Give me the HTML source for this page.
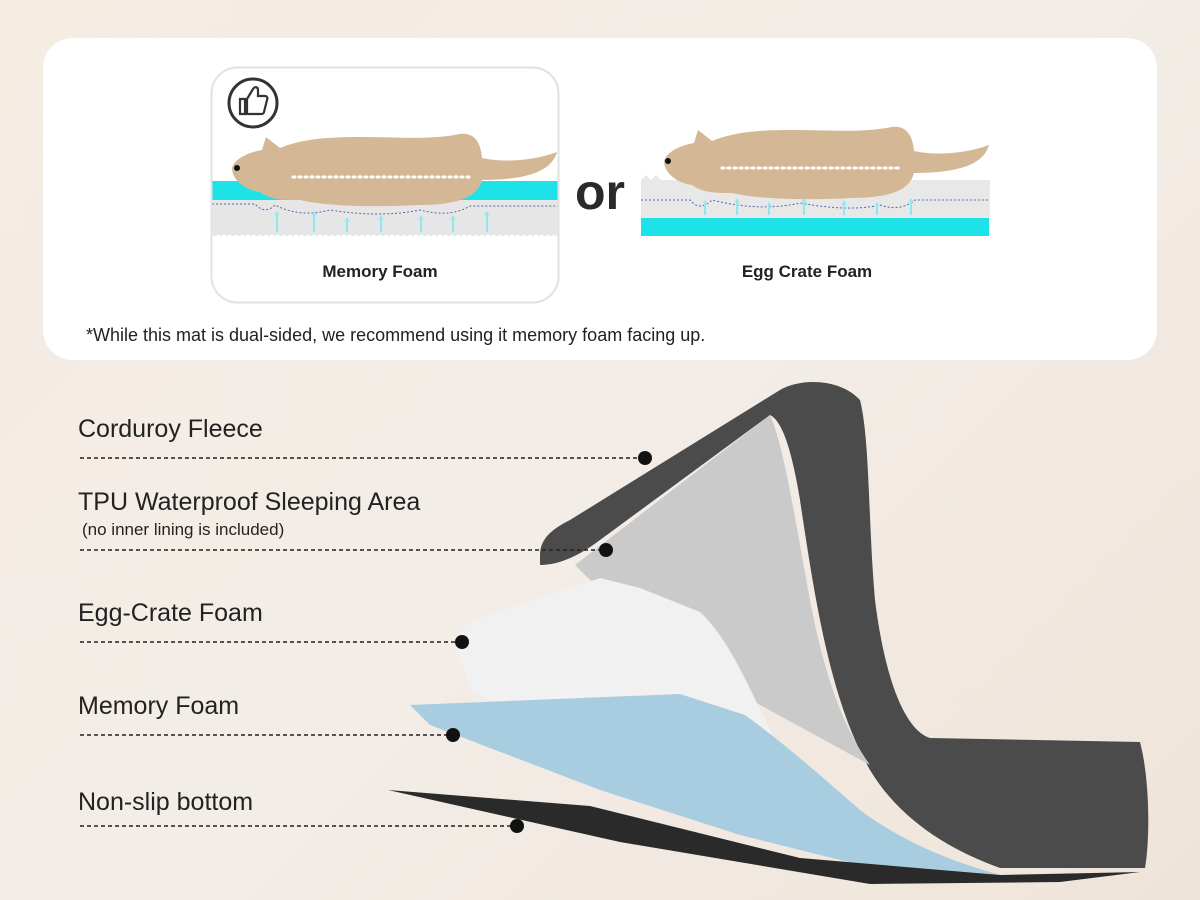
<!DOCTYPE html>
<html><head><meta charset="utf-8"><style>
html,body{margin:0;padding:0;width:1200px;height:900px;overflow:hidden}
body{background:linear-gradient(135deg,#f5ece2,#f3ede8 50%,#efe4d8);font-family:"Liberation Sans",sans-serif}
</style></head><body>
<svg width="1200" height="900" viewBox="0 0 1200 900" xmlns="http://www.w3.org/2000/svg" font-family="Liberation Sans, sans-serif">
<defs>
<clipPath id="lc"><rect x="212" y="68" width="346" height="234" rx="25"/></clipPath>
<path id="dog" d="M232 168 C235 158 250 152 262 150 L266 137 L280 148 C300 140 320 137 360 137 C400 137 430 140 460 134 C476 132 481 145 482 158 C500 162 530 162 557 152 C552 170 530 180 482 180 C478 196 460 205 420 205 C380 207 330 207 300 200 C285 200 270 200 260 192 C245 190 232 180 232 168 Z"/>
</defs>
<rect x="43" y="38" width="1114" height="322" rx="30" fill="#fff"/>
<g clip-path="url(#lc)">
<rect x="212" y="181" width="346" height="19" fill="#1de3e8"/>
<rect x="212" y="200" width="346" height="34" fill="#e6e6e6"/>
<path d="M212 234 q3 4 6 0 q3 4 6 0 q3 4 6 0 q3 4 6 0 q3 4 6 0 q3 4 6 0 q3 4 6 0 q3 4 6 0 q3 4 6 0 q3 4 6 0 q3 4 6 0 q3 4 6 0 q3 4 6 0 q3 4 6 0 q3 4 6 0 q3 4 6 0 q3 4 6 0 q3 4 6 0 q3 4 6 0 q3 4 6 0 q3 4 6 0 q3 4 6 0 q3 4 6 0 q3 4 6 0 q3 4 6 0 q3 4 6 0 q3 4 6 0 q3 4 6 0 q3 4 6 0 q3 4 6 0 q3 4 6 0 q3 4 6 0 q3 4 6 0 q3 4 6 0 q3 4 6 0 q3 4 6 0 q3 4 6 0 q3 4 6 0 q3 4 6 0 q3 4 6 0 q3 4 6 0 q3 4 6 0 q3 4 6 0 q3 4 6 0 q3 4 6 0 q3 4 6 0 q3 4 6 0 q3 4 6 0 q3 4 6 0 q3 4 6 0 q3 4 6 0 q3 4 6 0 q3 4 6 0 q3 4 6 0 q3 4 6 0 q3 4 6 0 q3 4 6 0 q3 4 6 0 q3 4 6 0 q3 4 6 0 z" fill="#e6e6e6"/>
<path d="M212 204 H255 Q265 215 275 205 Q300 218 330 210 Q380 218 420 210 Q450 218 470 206 H558" fill="none" stroke="#5566aa" stroke-width="1" stroke-dasharray="2 2"/>
<use href="#dog" fill="#d4b896"/>
</g>
<rect x="211.5" y="67.5" width="347" height="235" rx="26" fill="none" stroke="#e2e2e2" stroke-width="2"/>
<circle cx="253" cy="103" r="24" fill="none" stroke="#333" stroke-width="3"/>
<path d="M240 99h5v15h-5z M247 99l6-10c2-3 5-2 5 1v6h7c2 0 3 2 2 4l-3 12c0 1-1 2-3 2h-14z" fill="none" stroke="#333" stroke-width="2.2"/>
<circle cx="237" cy="168" r="3" fill="#111"/>
<line x1="293" y1="177" x2="470" y2="177" stroke="#fff" stroke-width="3" stroke-dasharray="2 4" stroke-linecap="round"/>
<g fill="#8fe8ef"><path d="M276 232v-18l-4 5 5-8 5 8-4-5v18z"/><path d="M313 232v-18l-4 5 5-8 5 8-4-5v18z"/><path d="M346 232v-12l-4 5 5-8 5 8-4-5v12z"/><path d="M380 232v-14l-4 5 5-8 5 8-4-5v14z"/><path d="M420 232v-14l-4 5 5-8 5 8-4-5v14z"/><path d="M452 232v-14l-4 5 5-8 5 8-4-5v14z"/><path d="M486 232v-18l-4 5 5-8 5 8-4-5v18z"/></g>
<text x="380" y="277" font-size="17" font-weight="bold" text-anchor="middle" fill="#222">Memory Foam</text>
<text x="600" y="209" font-size="50" font-weight="bold" text-anchor="middle" fill="#2a2a2a">or</text>
<!-- right mat -->
<path d="M641 180l5-5 5 5 5-5 5 5h329v38H641z" fill="#e8e8e8"/>
<rect x="641" y="218" width="348" height="18" fill="#1de3e8"/>
<path d="M641 200 H690 Q700 212 712 200 Q760 212 800 203 Q850 212 880 205 Q900 212 915 200 H989" fill="none" stroke="#5566aa" stroke-width="1" stroke-dasharray="2 2"/>
<use href="#dog" fill="#d4b896" transform="translate(432,-7)"/>
<circle cx="668" cy="161" r="3" fill="#111"/>
<line x1="722" y1="168" x2="900" y2="168" stroke="#fff" stroke-width="3" stroke-dasharray="2 4" stroke-linecap="round"/>
<g fill="#8fe8ef"><path d="M704 215v-12l-4 5 5-8 5 8-4-5v12z"/><path d="M736 215v-14l-4 5 5-8 5 8-4-5v14z"/><path d="M768 215v-10l-4 5 5-8 5 8-4-5v10z"/><path d="M803 215v-14l-4 5 5-8 5 8-4-5v14z"/><path d="M843 215v-12l-4 5 5-8 5 8-4-5v12z"/><path d="M876 215v-10l-4 5 5-8 5 8-4-5v10z"/><path d="M910 215v-14l-4 5 5-8 5 8-4-5v14z"/></g>
<text x="807" y="277" font-size="17" font-weight="bold" text-anchor="middle" fill="#222">Egg Crate Foam</text>
<text x="86" y="341" font-size="18" fill="#222">*While this mat is dual-sided, we recommend using it memory foam facing up.</text>
<!-- mat illustration -->
<path d="M540 555 C540 540 550 530 570 520 L780 390 C800 378 840 378 860 400 C870 440 868 520 875 600 C885 680 905 730 930 738 L1140 742 C1150 780 1150 840 1145 868 L1000 868 C950 850 900 820 870 770 C830 700 815 600 800 500 C790 440 780 420 770 415 L600 540 C580 555 560 565 540 565 Z" fill="#4b4b4b"/>
<path d="M575 565 L770 415 C785 450 795 520 810 600 C825 680 845 730 870 765 L760 705 L620 610 Z" fill="#cacaca"/>
<path d="M455 640 C460 625 475 620 490 615 L600 578 L640 588 L700 612 C730 640 750 690 775 740 C810 790 860 830 930 860 L990 875 L860 850 L700 790 L560 730 L470 690 Z" fill="#f1f1f1"/>
<path d="M410 705 L680 694 L745 715 C780 740 820 775 860 810 C900 840 950 862 1005 876 L880 870 L740 835 L600 790 L430 725 Z" fill="#a9cde0"/>
<path d="M388 790 L590 806 L800 858 L1000 875 L1140 872 L1060 882 L870 884 L620 842 Z" fill="#2a2a2a"/>
<!-- labels -->
<g font-size="25" fill="#222">
<text x="78" y="437">Corduroy Fleece</text>
<text x="78" y="510">TPU Waterproof Sleeping Area</text>
<text x="82" y="535" font-size="17">(no inner lining is included)</text>
<text x="78" y="621">Egg-Crate Foam</text>
<text x="78" y="714">Memory Foam</text>
<text x="78" y="810">Non-slip bottom</text>
</g>
<g stroke="#222" stroke-width="1.5" stroke-dasharray="4 3">
<line x1="80" y1="458" x2="645" y2="458"/><line x1="80" y1="550" x2="606" y2="550"/><line x1="80" y1="642" x2="462" y2="642"/><line x1="80" y1="735" x2="453" y2="735"/><line x1="80" y1="826" x2="517" y2="826"/>
</g>
<g fill="#111"><circle cx="645" cy="458" r="7"/><circle cx="606" cy="550" r="7"/><circle cx="462" cy="642" r="7"/><circle cx="453" cy="735" r="7"/><circle cx="517" cy="826" r="7"/></g>
</svg>
</body></html>
